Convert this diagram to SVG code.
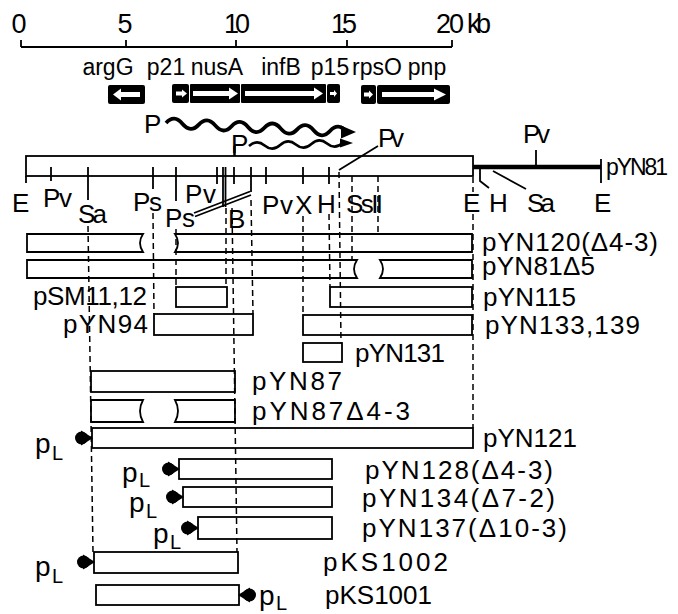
<svg xmlns="http://www.w3.org/2000/svg" width="678" height="614" viewBox="0 0 678 614">
<style>
 text { font-family: "Liberation Sans", Arial, sans-serif; fill:#000; }
 .num { font-size:27px; }
 .gl { font-size:23px; text-anchor:middle; }
 .ml { font-size:26px; }
 .pl { font-size:26px; }
 .ln { stroke:#000; stroke-width:1.8; fill:none; }
 .bar { stroke:#000; stroke-width:1.8; fill:none; }
 .dash { stroke:#000; stroke-width:1.5; stroke-dasharray:6 4; fill:none; }
 .gene { fill:#000; }
 .warr { fill:#fff; }
 .pp { font-size:28px; }
 .ps { font-size:20px; }
</style>
<defs>
 <g id="blob" fill="#000">
  <circle cx="-10.5" cy="0" r="6.5"/>
  <polygon points="-11,-7.5 1,0 -11,7.5"/>
 </g>
</defs>

<g id="scale">
 <path class="ln" d="M21,47 H452 M21,40 V47 M126,40 V47 M236,40 V47 M347,40 V47 M452,40 V47"/>
 <text class="num" x="19" y="33" text-anchor="middle">0</text>
 <text class="num" x="125" y="33" text-anchor="middle">5</text>
 <text class="num" x="237" y="33" text-anchor="middle" textLength="26">10</text>
 <text class="num" x="344" y="33" text-anchor="middle" textLength="26">15</text>
 <text class="num" x="450" y="33" text-anchor="middle" textLength="28">20</text>
 <text class="num" x="467" y="33" textLength="24">kb</text>
</g>

<g id="genes">
 <text class="gl" x="108" y="75">argG</text>
 <text class="gl" x="166" y="75">p21</text>
 <text class="gl" x="217" y="75">nusA</text>
 <text class="gl" x="281" y="75">infB</text>
 <text class="gl" x="330" y="75">p15</text>
 <text class="gl" x="377" y="75">rpsO</text>
 <text class="gl" x="427" y="75">pnp</text>
 <rect class="gene" x="108" y="85" width="37" height="19" rx="2"/>
 <rect class="gene" x="172" y="84" width="17" height="19" rx="2"/>
 <rect class="gene" x="190" y="84" width="50" height="19" rx="1"/>
 <rect class="gene" x="241" y="84" width="85" height="19" rx="1"/>
 <rect class="gene" x="327" y="84" width="13" height="19" rx="2"/>
 <rect class="gene" x="361" y="85" width="15" height="19" rx="2"/>
 <rect class="gene" x="377" y="85" width="73" height="19" rx="2"/>
 <polygon class="warr" points="140,92 121,92 121,88.5 113,94.5 121,100.5 121,97 140,97"/>
 <polygon class="warr" points="176,91.5 182,91.5 182,89.5 187,93.5 182,97.5 182,95.5 176,95.5"/>
 <polygon class="warr" points="193,91 229,91 229,87.5 238,93.5 229,99.5 229,96 193,96"/>
 <polygon class="warr" points="245,91 314,91 314,87.5 323,93.5 314,99.5 314,96 245,96"/>
 <polygon class="warr" points="330,92 334,92 334,90 337,93.5 334,97 334,95 330,95"/>
 <polygon class="warr" points="364,92.5 369,92.5 369,90.5 373,94.5 369,98.5 369,96.5 364,96.5"/>
 <polygon class="warr" points="382,92 434,92 434,88.5 446,94.5 434,100.5 434,97 382,97"/>
</g>

<g id="transcripts">
 <text class="ml" x="144" y="133">P</text>
 <path d="M166,123 q8.2,-9 16.4,0.8 t16.4,0.8 t16.4,0.8 t16.4,0.8 t16.4,0.8 t16.4,0.8 t16.4,0.8 t16.4,0.8 t16.4,0.8 t16.4,0.8 t16.4,0.8" fill="none" stroke="#000" stroke-width="3.8"/>
 <polygon points="341,125.5 356,132 341,138.5" fill="#000"/>
 <text class="ml" x="231" y="153">P</text>
 <path d="M234.5,146 V156" stroke="#000" stroke-width="2.5"/>
 <path d="M249,146 q7.8,-7 15.6,-0.5 t15.6,-0.5 t15.6,-0.5 t15.6,-0.5 t15.6,-0.5 t15.6,-0.5" fill="none" stroke="#000" stroke-width="2.6"/>
 <polygon points="340,138.5 353,143 340,147.5" fill="#000"/>
</g>

<g id="map">
 <rect class="ln" x="26" y="156" width="447" height="20"/>
 <path d="M473,167 H601" stroke="#000" stroke-width="4.5"/>
 <path class="ln" d="M26,176 V183 M51,167 V181 M88,167 V200 M153,167 V189 M176,167 V201 M217,167 V184 M223,167 V207 M225.5,167 V207 M234,167 V184 M251,167 V192 M266,167 V184 M303,167 V184 M329,167 V184 M601,159 V183 M536,150 V167"/>
 <path class="ln" d="M194,213 L250,191.5 M195,216.5 L251,195 M339,170 L378,146 M480,168 V181 L489,188 M493,171 L526,189"/>
 <text class="ml" x="12" y="212">E</text>
 <text class="ml" x="43" y="207" textLength="29">Pv</text>
 <text class="ml" x="78" y="223" textLength="29">Sa</text>
 <text class="ml" x="133" y="211" textLength="29">Ps</text>
 <text class="ml" x="165" y="227" textLength="30">Ps</text>
 <text class="ml" x="185" y="203" textLength="31">Pv</text>
 <text class="ml" x="228" y="228">B</text>
 <text class="ml" x="262" y="214" textLength="31">Pv</text>
 <text class="ml" x="295" y="214">X</text>
 <text class="ml" x="317" y="213">H</text>
 <text class="ml" x="346" y="213" textLength="37">SsII</text>
 <text class="ml" x="378" y="147" textLength="26">Pv</text>
 <text class="ml" x="463" y="212">E</text>
 <text class="ml" x="489" y="212">H</text>
 <text class="ml" x="527" y="212" textLength="28">Sa</text>
 <text class="ml" x="594" y="212">E</text>
 <text class="ml" x="523" y="143" textLength="27">Pv</text>
 <text x="606" y="175" font-size="23" textLength="62">pYN81</text>
</g>

<g id="connectors">
 <path class="dash" d="M88,226 L93,552 M153,213 L154,314 M176,229 V287 M226,208 V287 M232,208 L237,552 M251,200 L253,314 M303,216 V315 M329,214 L330,287 M339,172 L341,343 M352,176 V260 M378,176 V234 M473,177 V192 M473,214 V428"/>
</g>

<g id="pYN120">
 <path class="bar" d="M143,234 H27 V252 H143 Q137,243 143,234 Z"/>
 <path class="bar" d="M175,234 H472 V252 H175 Q181,243 175,234 Z"/>
 <text class="pl" x="482" y="251" font-size="25" textLength="176">pYN120(Δ4-3)</text>
</g>
<g id="pYN81d5">
 <path class="bar" d="M357,260 H27 V278 H357 Q351,269 357,260 Z"/>
 <path class="bar" d="M380,260 H472 V278 H380 Q386,269 380,260 Z"/>
 <text class="pl" x="482" y="275" textLength="113">pYN81Δ5</text>
</g>
<g id="pSM11">
 <rect class="bar" x="176" y="287" width="51" height="20"/>
 <text class="pl" x="33" y="305" textLength="114">pSM11,12</text>
</g>
<g id="pYN115">
 <rect class="bar" x="330" y="287" width="142" height="20"/>
 <text class="pl" x="483" y="306" textLength="93">pYN115</text>
</g>
<g id="pYN94">
 <rect class="bar" x="154" y="314" width="99" height="21"/>
 <text class="pl" x="63" y="333" textLength="85">pYN94</text>
</g>
<g id="pYN133">
 <rect class="bar" x="303" y="315" width="169" height="20"/>
 <text class="pl" x="485" y="334" textLength="155">pYN133,139</text>
</g>
<g id="pYN131">
 <rect class="bar" x="303" y="343" width="39" height="19"/>
 <text class="pl" x="355" y="362" textLength="90">pYN131</text>
</g>
<g id="pYN87">
 <rect class="bar" x="91" y="371" width="144" height="21"/>
 <text class="pl" x="252" y="390" textLength="90">pYN87</text>
</g>
<g id="pYN87d">
 <path class="bar" d="M143,400 H91 V422 H143 Q137,411 143,400 Z"/>
 <path class="bar" d="M175,400 H235 V422 H175 Q181,411 175,400 Z"/>
 <text class="pl" x="252" y="420" textLength="158">pYN87Δ4-3</text>
</g>
<g id="pYN121">
 <rect class="bar" x="92" y="428" width="381" height="20"/>
 <use href="#blob" x="92" y="438"/>
 <text class="pp" x="35" y="453">p</text><text class="ps" x="52" y="460">L</text>
 <text class="pl" x="483" y="447" textLength="94">pYN121</text>
</g>
<g id="pYN128">
 <rect class="bar" x="179" y="459" width="153" height="20"/>
 <use href="#blob" x="179" y="469"/>
 <text class="pp" x="122" y="482">p</text><text class="ps" x="139" y="487">L</text>
 <text class="pl" x="365" y="479" textLength="188">pYN128(Δ4-3)</text>
</g>
<g id="pYN134">
 <rect class="bar" x="183" y="487" width="149" height="20"/>
 <use href="#blob" x="183" y="497"/>
 <text class="pp" x="129" y="512">p</text><text class="ps" x="146" y="518">L</text>
 <text class="pl" x="362" y="507" textLength="193">pYN134(Δ7-2)</text>
</g>
<g id="pYN137">
 <rect class="bar" x="198" y="517" width="134" height="22"/>
 <use href="#blob" x="198" y="528"/>
 <text class="pp" x="153" y="543">p</text><text class="ps" x="170" y="549">L</text>
 <text class="pl" x="362" y="537" textLength="205">pYN137(Δ10-3)</text>
</g>
<g id="pKS1002">
 <rect class="bar" x="94" y="552" width="144" height="21"/>
 <use href="#blob" x="94" y="562"/>
 <text class="pp" x="35" y="576">p</text><text class="ps" x="52" y="583">L</text>
 <text class="pl" x="323" y="571" textLength="125">pKS1002</text>
</g>
<g id="pKS1001">
 <rect class="bar" x="96" y="585" width="143" height="20"/>
 <use href="#blob" transform="translate(239,595) scale(-1,1)"/>
 <text class="pp" x="259" y="605">p</text><text class="ps" x="276" y="610">L</text>
 <text class="pl" x="325" y="604" textLength="107">pKS1001</text>
</g>
</svg>
